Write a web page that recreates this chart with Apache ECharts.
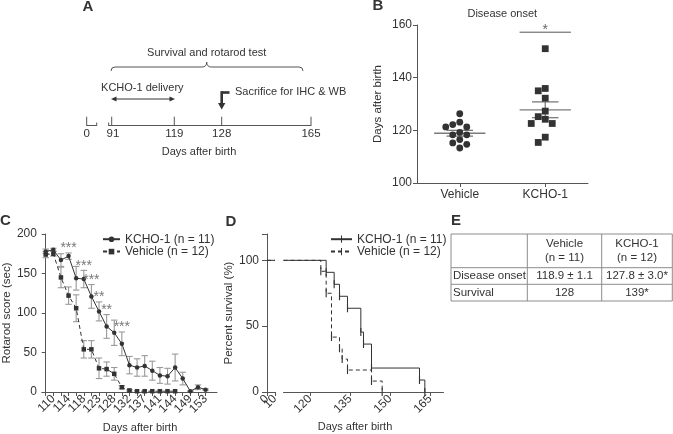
<!DOCTYPE html>
<html><head><meta charset="utf-8">
<script src="https://cdn.jsdelivr.net/npm/echarts@6.0.0/dist/echarts.min.js"></script>
<style>html,body{margin:0;padding:0;background:#fff;}#main{width:673px;height:434px;}</style>
</head><body><div id="main"></div>
<script>
// ---------------- Data ----------------
// Panel A: experiment timeline (days after birth)
const timelineTicks = ['0', '91', '119', '128', '165'];
const timelineTitle = 'Days after birth';
const timelineNotes = ['Survival and rotarod test', 'KCHO-1 delivery', 'Sacrifice for IHC & WB'];

// Panel B: disease onset (days after birth)
const onsetCategories = ['Vehicle', 'KCHO-1'];
const onsetVehicle = [126.3, 123.1, 122.2, 121.3, 121.3, 119.2, 118.3, 118.3, 116.5, 115.2, 114.7, 113.3];
const onsetKCHO = [151.0, 135.9, 135.0, 132.2, 127.3, 125.2, 124.2, 122.6, 122.6, 117.4, 115.4];
const onsetMean = [118.9, 127.8];
const onsetSem = [1.1, 3.0];
const onsetSigMark = '*';
const onsetTitle = 'Disease onset';

// Panel C: rotarod score (sec), mean and SEM
const rotarodDays = ['108','110','112','114','116','118','121','123','125','128','130','132','135','137','139','141','142','144','146','149','151','153'];
const rotarodKCHO = [178,180,167,172,144,143,121,102,83,75,61,34,31,33,27,21,20,31,17,1,6,3];
const rotarodKCHOSem = [3,2,8,4,15,11,15,12,15,16,15,11,11,13,12,10,10,17,8,0.5,3,1];
const rotarodVehicle = [174,175,145,122,106,54,54,30,29,23,6,2,1,1,1,1,1,1];
const rotarodVehicleSem = [4,3,13,11,17,11,11,13,9,8,2,1,0,0,0,0,0,0];
const sigIndex = [3, 5, 6, 7, 8, 10];
const sigMarks = ['***', '***', '***', '**', '**', '***'];

// Panel D: Kaplan-Meier survival (%)
const survKCHODays = [126, 129, 131, 134, 139, 140, 143, 161, 163];
const survKCHO = [90.9, 81.8, 72.7, 63.6, 45.5, 36.4, 18.2, 9.1, 0];
const survVehicleDays = [124, 126, 128, 131, 132, 134, 143, 147];
const survVehicle = [91.7, 75, 41.7, 33.3, 25, 16.7, 8.3, 0];
const survStart = 100;

// Panel E: summary table
const tableHeader = ['', 'Vehicle\n(n = 11)', 'KCHO-1\n(n = 12)'];
const tableRows = [['Disease onset', '118.9 ± 1.1', '127.8 ± 3.0*'], ['Survival', '128', '139*']];

const groupNames = ['KCHO-1 (n = 11)', 'Vehicle (n = 12)'];

// ---------------- Styling ----------------
const FONT = '"Liberation Sans", Arial, Helvetica, sans-serif';
const TXT = '#333';
const AX = '#555';
const DARK = '#333';
const TICK = 'path://M0,0h0.01v0.01h-0.01zM4.3,0h1.4v10h-1.4zM9.99,9.99h0.01v0.01h-0.01z';
const D2_MIN = 110, D2_MAX = 170;
const C_MIN = -0.5, C_MAX = rotarodDays.length + 0.5;
const EPS = 1e-6;

const chart = echarts.init(document.getElementById('main'), null, {renderer: 'canvas', width: 673, height: 434});

function axisCommon(extra) {
  return Object.assign({
    axisLine: {show: true, lineStyle: {color: AX, width: 1}},
    axisTick: {show: true, length: 4, lineStyle: {color: AX}},
    axisLabel: {color: TXT, fontSize: 12, fontFamily: FONT, margin: 5},
    splitLine: {show: false},
    nameTextStyle: {color: TXT, fontSize: 11.5, fontFamily: FONT}
  }, extra);
}
// rotated labels; an empty placeholder label sits at each axis end so that
// the real labels are never dropped by the min/max overlap check
function xLabel(extra) {
  return Object.assign({color: TXT, fontSize: 12, fontFamily: FONT, margin: 5, rotate: 45,
    showMinLabel: false, showMaxLabel: false, hideOverlap: false}, extra);
}

// ---------- graphic (panel letters, diagram A, titles, table E) ----------
const G = [];
function text(x, y, s, o) {
  o = o || {};
  const st = {
    text: s, fill: o.fill || TXT, fontSize: o.size || 11, fontFamily: FONT,
    fontWeight: o.weight || 'normal', align: o.align || 'center', verticalAlign: o.va || 'middle'
  };
  if (o.lh) st.lineHeight = o.lh;
  G.push({type: 'text', x: x, y: y, silent: true, style: st});
}
function line(x1, y1, x2, y2, o) {
  o = o || {};
  G.push({type: 'line', silent: true, shape: {x1: x1, y1: y1, x2: x2, y2: y2},
    style: {stroke: o.stroke || AX, lineWidth: o.w || 1}});
}
function curve(x1, y1, cx, cy, x2, y2) {
  G.push({type: 'bezierCurve', silent: true, shape: {x1: x1, y1: y1, cpx1: cx, cpy1: cy, x2: x2, y2: y2},
    style: {stroke: AX, lineWidth: 1, fill: null}});
}
function poly(pts, fill) {
  G.push({type: 'polygon', silent: true, shape: {points: pts}, style: {fill: fill || DARK}});
}

// panel letters
[['A', 88, 7], ['B', 378, 6], ['C', 5.5, 221], ['D', 231, 222], ['E', 456, 221]].forEach(function (p) {
  text(p[1], p[2], p[0], {size: 15, weight: 'bold'});
});

// Panel A diagram (schematic layout)
const tlY = 125.5;
const tlX = [86.7, 111.7, 174.3, 221.7, 311];
text(206.7, 52.7, timelineNotes[0], {size: 11});
curve(111, 71, 111, 67, 115, 67);
line(115, 67, 202, 67);
curve(202, 67, 206.7, 67, 206.7, 62);
curve(206.7, 62, 206.7, 67, 211.4, 67);
line(211.4, 67, 299, 67);
curve(299, 67, 303, 67, 303, 71);
text(142.3, 87.7, timelineNotes[1], {size: 11});
line(114, 99, 172, 99, {stroke: DARK, w: 1});
poly([[111, 99], [116.5, 96.6], [116.5, 101.4]]);
poly([[175, 99], [169.5, 96.6], [169.5, 101.4]]);
text(235, 91.7, timelineNotes[2], {size: 11, align: 'left'});
line(229.5, 92.5, 221.7, 92.5, {stroke: DARK, w: 2.6});
line(221.7, 91.2, 221.7, 104, {stroke: DARK, w: 2.6});
poly([[218, 103], [225.4, 103], [221.7, 109.5]]);
// timeline axis
line(tlX[0], tlY, 96.7, tlY);
line(tlX[0], 116.7, tlX[0], tlY + 0.5);
line(96.7, 122.5, 96.7, tlY + 0.5);
line(108.7, tlY, tlX[4], tlY);
line(108.7, 122.5, 108.7, tlY + 0.5);
for (let i = 1; i < tlX.length; i++) line(tlX[i], 116.7, tlX[i], tlY + 0.5);
timelineTicks.forEach(function (t, i) { text(tlX[i] + (i === 1 ? 1.3 : 0), 134, t, {size: 11.5}); });
text(199, 151.7, timelineTitle, {size: 11});

// Panel B title, C/D x-axis titles
text(502.3, 14, onsetTitle, {size: 11});
text(140, 428, 'Days after birth', {size: 11});
text(355, 427, 'Days after birth', {size: 11});

// Panel E table
const tX = [451, 527.3, 601.7, 672.3];
const tY = [234, 267.7, 284.3, 301];
const TB = '#8c8c8c';
tY.forEach(function (y) { line(tX[0], y, tX[3], y, {stroke: TB}); });
tX.forEach(function (x) { line(x, tY[0], x, tY[3], {stroke: TB}); });
for (let c = 1; c < tableHeader.length; c++) {
  text((tX[c] + tX[c + 1]) / 2, (tY[0] + tY[1]) / 2, tableHeader[c], {size: 11.5, lh: 13.5});
}
tableRows.forEach(function (row, r) {
  const cy = (tY[r + 1] + tY[r + 2]) / 2;
  row.forEach(function (cell, c) {
    if (c === 0) text(tX[0] + 2, cy, cell, {size: 11.5, align: 'left'});
    else text((tX[c] + tX[c + 1]) / 2, cy, cell, {size: 11.5});
  });
});

// ---------------- Series ----------------
const onsetGroups = [onsetVehicle, onsetKCHO];
const cLabelIdx = rotarodDays.map(function (d, i) { return i; }).filter(function (i) { return i % 2 === 1; });

const option = {
  animation: false,
  backgroundColor: '#fff',
  textStyle: {fontFamily: FONT},
  grid: [
    {left: 417, top: 25, width: 171, height: 158},   // B
    {left: 41, top: 234, width: 176, height: 158},   // C
    {left: 267, top: 234, width: 8, height: 158},    // D (0-10)
    {left: 283.5, top: 234, width: 160, height: 158} // D (110-170)
  ],
  xAxis: [
    axisCommon({gridIndex: 0, type: 'category', data: onsetCategories, boundaryGap: true,
      axisTick: {show: true, alignWithLabel: true, length: 4, lineStyle: {color: AX}},
      axisLabel: {color: TXT, fontSize: 12, fontFamily: FONT, margin: 6}}),
    axisCommon({gridIndex: 1, type: 'value', min: C_MIN, max: C_MAX,
      axisTick: {show: true, length: 4, lineStyle: {color: AX}, customValues: rotarodDays.map(function (d, i) { return i; })},
      axisLabel: xLabel({
        customValues: [C_MIN].concat(cLabelIdx, [C_MAX]),
        formatter: function (v) { return Number.isInteger(v) ? rotarodDays[v] : ''; }})}),
    axisCommon({gridIndex: 2, type: 'value', min: 0, max: 10,
      axisTick: {show: true, length: 4, lineStyle: {color: AX}, customValues: [0, 10]},
      axisLabel: xLabel({customValues: [EPS, 0, 10, 10 - EPS],
        formatter: function (v) { return (v === 0 || v === 10) ? String(v) : ''; }})}),
    axisCommon({gridIndex: 3, type: 'value', min: D2_MIN, max: D2_MAX,
      axisTick: {show: true, length: 4, lineStyle: {color: AX}, customValues: [110, 120, 135, 150, 165, 170]},
      axisLabel: xLabel({customValues: [D2_MIN, 120, 135, 150, 165, D2_MAX],
        formatter: function (v) { return (v === D2_MIN || v === D2_MAX) ? '' : String(v); }})})
  ],
  yAxis: [
    axisCommon({gridIndex: 0, type: 'value', min: 100, max: 160, interval: 20,
      name: 'Days after birth', nameLocation: 'middle', nameGap: 33}),
    axisCommon({gridIndex: 1, type: 'value', min: 0, max: 200, interval: 50,
      name: 'Rotarod score (sec)', nameLocation: 'middle', nameGap: 27}),
    axisCommon({gridIndex: 2, type: 'value', min: 0, max: 120,
      axisTick: {show: true, length: 5, lineStyle: {color: AX}, customValues: [0, 50, 100, 120]},
      axisLabel: {color: TXT, fontSize: 12, fontFamily: FONT, margin: 8, customValues: [0, 50, 100], showMinLabel: true},
      name: 'Percent survival (%)', nameLocation: 'middle', nameGap: 28}),
    {gridIndex: 3, type: 'value', min: 0, max: 120, show: false, splitLine: {show: false}}
  ],
  legend: [
    {orient: 'vertical', left: 102, top: 233, padding: 0, itemWidth: 17, itemHeight: 7, itemGap: 0,
      selectedMode: false, data: groupNames,
      textStyle: {color: TXT, fontSize: 12, lineHeight: 12.4, fontFamily: FONT}},
    {orient: 'vertical', left: 330, top: 233, padding: 0, itemWidth: 21, itemHeight: 9, itemGap: 0,
      selectedMode: false, data: groupNames.map(function (n) { return 'surv:' + n; }),
      formatter: function (n) { return n.replace('surv:', ''); },
      textStyle: {color: TXT, fontSize: 12, lineHeight: 12.4, fontFamily: FONT}}
  ],
  graphic: {elements: G},
  series: [
    // ---- Panel B: mean & SEM lines
    {type: 'custom', xAxisIndex: 0, yAxisIndex: 0, silent: true, z: 3,
      data: onsetCategories.map(function (c, i) { return [i, onsetMean[i], onsetSem[i]]; }),
      renderItem: function (params, api) {
        const i = api.value(0), m = api.value(1), s = api.value(2);
        const band = api.size([1, 0])[0];
        const c = api.coord([i, m]), up = api.coord([i, m + s]), lo = api.coord([i, m - s]);
        const hm = band * 0.30, hs = band * 0.155;
        const st = {stroke: '#7a7a7a', lineWidth: 1.3};
        return {type: 'group', children: [
          {type: 'line', shape: {x1: c[0] - hm, y1: c[1], x2: c[0] + hm, y2: c[1]}, style: st},
          {type: 'line', shape: {x1: c[0] - hs, y1: up[1], x2: c[0] + hs, y2: up[1]}, style: st},
          {type: 'line', shape: {x1: c[0] - hs, y1: lo[1], x2: c[0] + hs, y2: lo[1]}, style: st},
          {type: 'line', shape: {x1: c[0], y1: up[1], x2: c[0], y2: lo[1]}, style: st}
        ]};
      }},
    // ---- Panel B: individual animals (beeswarm)
    {type: 'custom', xAxisIndex: 0, yAxisIndex: 0, silent: true, z: 4,
      data: onsetCategories.map(function (c, i) { return [i, onsetMean[i]]; }),
      renderItem: function (params, api) {
        const gi = params.dataIndex, vals = onsetGroups[gi];
        const cx = api.coord([gi, vals[0]])[0];
        const D = 7.0, R = 3.4;
        const placed = [];
        const order = vals.map(function (v, k) { return k; }).sort(function (a, b) { return vals[b] - vals[a]; });
        const kids = [];
        order.forEach(function (k) {
          const y = api.coord([gi, vals[k]])[1];
          const offs = [0, -1, 1, -2, 2, -3, 3];
          for (let j = 0; j < offs.length; j++) {
            const x = cx + offs[j] * D;
            if (placed.every(function (p) { return Math.hypot(p[0] - x, p[1] - y) >= D; })) { placed.push([x, y]); break; }
          }
        });
        placed.forEach(function (p) {
          if (gi === 0) kids.push({type: 'circle', shape: {cx: p[0], cy: p[1], r: R}, style: {fill: DARK}});
          else kids.push({type: 'rect', shape: {x: p[0] - R, y: p[1] - R, width: 2 * R, height: 2 * R}, style: {fill: DARK}});
        });
        return {type: 'group', children: kids};
      }},
    // ---- Panel B: significance bar
    {type: 'custom', xAxisIndex: 0, yAxisIndex: 0, silent: true, z: 4,
      data: [[1, Math.max.apply(null, onsetKCHO)]],
      renderItem: function (params, api) {
        const i = api.value(0);
        const band = api.size([1, 0])[0];
        const p = api.coord([i, api.value(1)]);
        const y = p[1] - 16.5, h = band * 0.30;
        return {type: 'group', children: [
          {type: 'line', shape: {x1: p[0] - h, y1: y, x2: p[0] + h, y2: y}, style: {stroke: '#555', lineWidth: 1}},
          {type: 'text', x: p[0], y: y - 2.5, style: {text: onsetSigMark, fill: '#666', fontSize: 14, fontFamily: FONT, align: 'center', verticalAlign: 'middle'}}
        ]};
      }},
    // ---- Panel C: error bars
    {type: 'custom', xAxisIndex: 1, yAxisIndex: 1, silent: true, z: 2,
      data: rotarodVehicle.map(function (m, i) { return [i, m, rotarodVehicleSem[i]]; })
        .concat(rotarodKCHO.map(function (m, i) { return [i, m, rotarodKCHOSem[i]]; })),
      renderItem: function (params, api) {
        const x = api.value(0), m = api.value(1), s = api.value(2);
        if (!s) return null;
        const up = api.coord([x, m + s]), lo = api.coord([x, m - s]);
        const w = 3.2, st = {stroke: '#999', lineWidth: 1.1};
        return {type: 'group', children: [
          {type: 'line', shape: {x1: up[0], y1: up[1], x2: lo[0], y2: lo[1]}, style: st},
          {type: 'line', shape: {x1: up[0] - w, y1: up[1], x2: up[0] + w, y2: up[1]}, style: st},
          {type: 'line', shape: {x1: lo[0] - w, y1: lo[1], x2: lo[0] + w, y2: lo[1]}, style: st}
        ]};
      }},
    {name: groupNames[1], type: 'line', xAxisIndex: 1, yAxisIndex: 1, z: 3,
      data: rotarodVehicle.map(function (v, i) { return [i, v]; }),
      symbol: 'rect', symbolSize: 4.5, showSymbol: true,
      lineStyle: {color: DARK, width: 1, type: [4, 3]}, itemStyle: {color: DARK}},
    {name: groupNames[0], type: 'line', xAxisIndex: 1, yAxisIndex: 1, z: 4,
      data: rotarodKCHO.map(function (v, i) { return [i, v]; }),
      symbol: 'circle', symbolSize: 4.5, showSymbol: true,
      lineStyle: {color: DARK, width: 1}, itemStyle: {color: DARK}},
    // ---- Panel C: significance marks
    {type: 'custom', xAxisIndex: 1, yAxisIndex: 1, silent: true, z: 5,
      data: sigIndex.map(function (ix, k) { return [ix, rotarodKCHO[ix] + rotarodKCHOSem[ix], k]; }),
      renderItem: function (params, api) {
        const p = api.coord([api.value(0), api.value(1)]);
        return {type: 'text', x: p[0], y: p[1] - 4.5, style: {text: sigMarks[api.value(2)], fill: '#777',
          fontSize: 14, fontFamily: FONT, align: 'center', verticalAlign: 'middle'}};
      }},
    // ---- Panel D: days 0-10 segment
    {name: 'veh-early', type: 'line', xAxisIndex: 2, yAxisIndex: 2, showSymbol: false,
      data: [[0, survStart], [10, survStart]], lineStyle: {color: DARK, width: 1, type: [4, 3]}},
    {name: 'kcho-early', type: 'line', xAxisIndex: 2, yAxisIndex: 2, showSymbol: false,
      data: [[0, survStart], [10, survStart]], lineStyle: {color: DARK, width: 1}},
    // ---- Panel D: Kaplan-Meier curves
    {name: 'surv:' + groupNames[1], type: 'line', step: 'end', xAxisIndex: 3, yAxisIndex: 3, z: 3,
      data: [{value: [D2_MIN, survStart], symbol: 'none'}].concat(survVehicleDays.map(function (d, i) { return [d, survVehicle[i]]; })),
      symbol: TICK, symbolSize: 8, lineStyle: {color: DARK, width: 1, type: [4, 3]}, itemStyle: {color: DARK}},
    {name: 'surv:' + groupNames[0], type: 'line', step: 'end', xAxisIndex: 3, yAxisIndex: 3, z: 4,
      data: [{value: [D2_MIN, survStart], symbol: 'none'}].concat(survKCHODays.map(function (d, i) { return [d, survKCHO[i]]; })),
      symbol: TICK, symbolSize: 8, lineStyle: {color: DARK, width: 1}, itemStyle: {color: DARK}}
  ]
};
chart.setOption(option);
</script>
</body></html>
